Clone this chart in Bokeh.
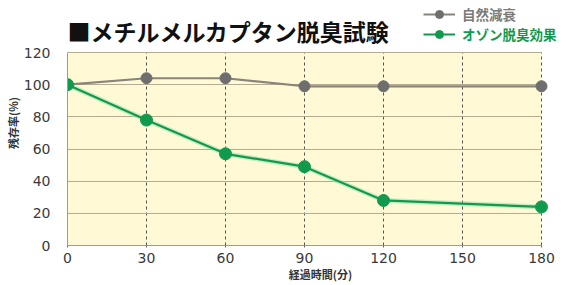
from bokeh.plotting import figure
from bokeh.models import (Range1d, FixedTicker, Label, Legend, LegendItem)
from bokeh.embed import file_html
from bokeh.resources import INLINE

# ---- data ----
minutes = [0, 30, 60, 90, 120, 180]
natural = [100, 104, 104, 99, 99, 99]          # 自然減衰
ozone = [100, 78, 57, 49, 28, 24]              # オゾン脱臭効果
x_ticks = [0, 30, 60, 90, 120, 150, 180]
y_ticks = [0, 20, 40, 60, 80, 100, 120]
title_text = "■メチルメルカプタン脱臭試験"
series_names = ["自然減衰", "オゾン脱臭効果"]
x_label = "経過時間(分)"
y_label = "残存率(%)"

GRAY_LINE = "#8a847a"
GRAY_DOT = "#6e6e6e"
GREEN = "#119a4e"
YELLOW = "#fff9d6"
JP = "Noto Sans CJK JP"

# layout in pixels: data area 474 x 193, a header band of 52 px above it,
# a free band of 32 px to its right (legend text)
FRAME_W, FRAME_H = 506, 245
DATA_W, DATA_H = 474, 193
x0, x1 = x_ticks[0], x_ticks[-1]
y0, y1 = y_ticks[0], y_ticks[-1]
x_end = x0 + (x1 - x0) * FRAME_W / DATA_W
y_end = y0 + (y1 - y0) * FRAME_H / DATA_H

p = figure(frame_width=FRAME_W, frame_height=FRAME_H, output_backend="svg",
           toolbar_location=None,
           x_range=Range1d(x0, x_end), y_range=Range1d(y0, y_end),
           min_border_left=67, min_border_right=0, min_border_top=0, min_border_bottom=40)
p.background_fill_color = "white"
p.border_fill_color = "white"
p.outline_line_color = None
# yellow plotting area, drawn below the grid
p.quad(left=[x0], right=[x1], bottom=[y0], top=[y1], fill_color=YELLOW,
       line_color=None, level="image")

p.xaxis.ticker = FixedTicker(ticks=x_ticks)
p.yaxis.ticker = FixedTicker(ticks=y_ticks)
p.xaxis.bounds = (x0, x1)
p.yaxis.bounds = (y0, y1)
for ax in (p.xaxis, p.yaxis):
    ax.axis_line_color = "#a09a8c"
    ax.major_label_text_font = "DejaVu Sans"
    ax.major_label_text_font_size = "14px"
    ax.major_label_text_color = "#3a3a3a"
    ax.minor_tick_line_color = None
    ax.axis_label_text_font = JP
    ax.axis_label_text_font_size = "11px"
    ax.axis_label_text_font_style = "bold"
    ax.axis_label_text_color = "#333333"
p.xaxis.axis_label = x_label
p.yaxis.axis_label = y_label
p.yaxis.major_tick_line_color = None
p.yaxis.major_label_standoff = 11
p.yaxis.axis_label_standoff = 0
p.xaxis.major_tick_in = 0
p.xaxis.major_tick_out = 2
p.xaxis.major_tick_line_color = "#666666"
p.xaxis.major_label_standoff = 5
p.xaxis.axis_label_standoff = 0

p.xgrid.grid_line_color = "#555555"
p.xgrid.grid_line_dash = "3 3"
p.xgrid.grid_line_width = 1
p.xgrid.cross_bounds = (y0, y1)
p.ygrid.grid_line_color = "#b5ab90"
p.ygrid.grid_line_width = 1
p.ygrid.cross_bounds = (x0, x1)

# series
p.line(minutes, ozone, line_color="#8fe0a8", line_width=5, line_alpha=0.5)
gl = p.line(minutes, natural, line_color=GRAY_LINE, line_width=2.2)
gm = p.scatter(minutes, natural, size=11, fill_color=GRAY_DOT, line_color=GRAY_DOT)
ol = p.line(minutes, ozone, line_color=GREEN, line_width=2.2)
om = p.scatter(minutes, ozone, size=12, fill_color=GREEN, line_color=GREEN)

# legends (two, so each label keeps its own colour), in the header band
for i, (name, rends, col) in enumerate([(series_names[0], [gl, gm], "#7a7a7a"),
                                        (series_names[1], [ol, om], GREEN)]):
    lg = Legend(items=[LegendItem(label=name, renderers=rends)],
                location=(356, FRAME_H - 24 - 20 * i), glyph_width=32, glyph_height=20,
                label_height=20, label_standoff=7, padding=0, margin=0, spacing=0,
                border_line_color=None, background_fill_alpha=0,
                label_text_font=JP, label_text_font_size="13.5px",
                label_text_font_style="bold", label_text_color=col)
    p.add_layout(lg)

p.add_layout(Label(x=0, y=FRAME_H - 30, x_units="screen", y_units="screen", text=title_text,
                   text_font=JP, text_font_size="23px", text_font_style="bold",
                   text_color="#111111", text_baseline="middle"))

open("out.html", "w").write(file_html(p, INLINE))
